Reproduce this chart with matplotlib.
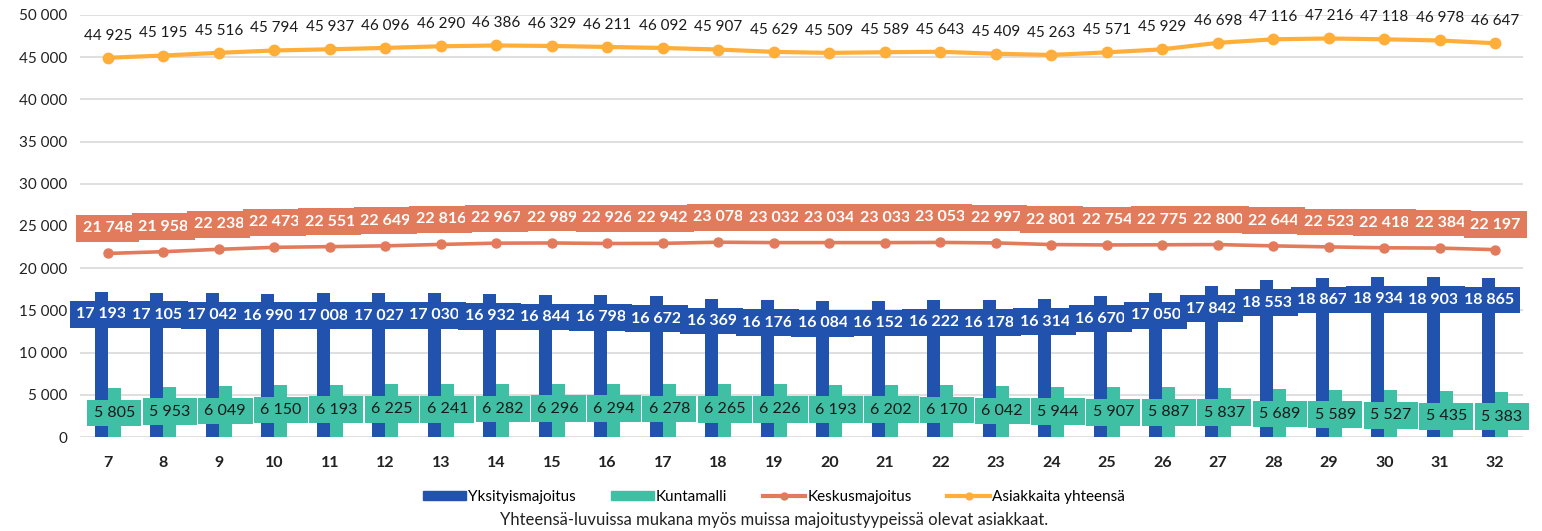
import matplotlib
matplotlib.use("Agg")
import matplotlib.pyplot as plt
import numpy as np
from matplotlib.lines import Line2D
from matplotlib.patches import Patch
from matplotlib.ticker import FuncFormatter

weeks = [str(w) for w in range(7, 33)]
yksityis = [17193, 17105, 17042, 16990, 17008, 17027, 17030, 16932, 16844, 16798, 16672, 16369, 16176,
            16084, 16152, 16222, 16178, 16314, 16670, 17050, 17842, 18553, 18867, 18934, 18903, 18865]
kunta = [5805, 5953, 6049, 6150, 6193, 6225, 6241, 6282, 6296, 6294, 6278, 6265, 6226,
         6193, 6202, 6170, 6042, 5944, 5907, 5887, 5837, 5689, 5589, 5527, 5435, 5383]
keskus = [21748, 21958, 22238, 22473, 22551, 22649, 22816, 22967, 22989, 22926, 22942, 23078, 23032,
          23034, 23033, 23053, 22997, 22801, 22754, 22775, 22800, 22644, 22523, 22418, 22384, 22197]
yhteensa = [44925, 45195, 45516, 45794, 45937, 46096, 46290, 46386, 46329, 46211, 46092, 45907, 45629,
            45509, 45589, 45643, 45409, 45263, 45571, 45929, 46698, 47116, 47216, 47118, 46978, 46647]
series_names = ["Yksityismajoitus", "Kuntamalli", "Keskusmajoitus", "Asiakkaita yhteensä"]
footnote = "Yhteensä-luvuissa mukana myös muissa majoitustyypeissä olevat asiakkaat."

c_blue = "#2152AE"
c_teal = "#3FBFA4"
c_salmon = "#E27B5C"
c_orange = "#FFAE3A"

plt.rcParams['font.family'] = ['Lato', 'DejaVu Sans']

def fmt(v):
    return f"{int(v):,}".replace(",", " ")

fig = plt.figure(figsize=(15.42, 5.31), dpi=100)
ax = fig.add_axes([0.0519, 0.177, 0.9358, 0.7948])
x = np.arange(len(weeks))
w = 0.235

ax.bar(x - w / 2, yksityis, width=w, color=c_blue, zorder=2)
ax.bar(x + w / 2, kunta, width=w, color=c_teal, zorder=2)
ax.plot(x, keskus, color=c_salmon, lw=2.6, marker='o', ms=6.5, zorder=3)
ax.plot(x, yhteensa, color=c_orange, lw=3, marker='o', ms=7.5, zorder=3)

for i in range(len(x)):
    ax.annotate(fmt(yksityis[i]), (x[i] - w / 2, yksityis[i]), xytext=(0, -16), textcoords='offset points',
                ha='center', va='center', fontsize=11.5, fontweight='bold', color='white', zorder=5,
                bbox=dict(boxstyle='square,pad=0.4', fc=c_blue, ec='none'))
for i in range(len(x)):
    ax.annotate(fmt(kunta[i]), (x[i] + w / 2, kunta[i]), xytext=(0, -18), textcoords='offset points',
                ha='center', va='center', fontsize=11.5, color='#1a1a1a', zorder=6,
                bbox=dict(boxstyle='square,pad=0.4', fc=c_teal, ec='none'))
for i in range(len(x)):
    ax.annotate(fmt(keskus[i]), (x[i], keskus[i]), xytext=(0, 18), textcoords='offset points',
                ha='center', va='center', fontsize=11.5, fontweight='bold', color='white', zorder=6,
                bbox=dict(boxstyle='square,pad=0.4', fc=c_salmon, ec='none'))
for i in range(len(x)):
    ax.annotate(fmt(yhteensa[i]), (x[i], yhteensa[i]), xytext=(0, 16), textcoords='offset points',
                ha='center', va='center', fontsize=11, color='#1a1a1a', zorder=6)

ax.set_xlim(-0.5, len(x) - 0.5)
ax.set_ylim(0, 50000)
ax.set_yticks(np.arange(0, 50001, 5000))
ax.yaxis.set_major_formatter(FuncFormatter(lambda v, p: fmt(v)))
ax.set_xticks(x)
ax.set_xticklabels(weeks, fontweight='bold')
ax.tick_params(axis='both', length=0, labelsize=11, colors='#222222')
ax.tick_params(axis='y', pad=9)
ax.tick_params(axis='x', pad=14, labelsize=11.5)
ax.grid(axis='y', color='#d9d9d9', lw=1.2, zorder=0)
ax.set_axisbelow(True)
for s in ax.spines.values():
    s.set_visible(False)

handles = [Patch(color=c_blue), Patch(color=c_teal),
           Line2D([], [], color=c_salmon, lw=3, marker='o', ms=5),
           Line2D([], [], color=c_orange, lw=3, marker='o', ms=5)]
fig.legend(handles, series_names, loc='center', bbox_to_anchor=(0.502, 0.064), ncol=4, frameon=False,
           fontsize=11, handlelength=2.8, handleheight=0.5, columnspacing=2.3, handletextpad=0.15)
fig.text(0.502, 0.021, footnote, ha='center', va='center', fontsize=12, color='#222222')

fig.savefig("out.png", dpi=100)
